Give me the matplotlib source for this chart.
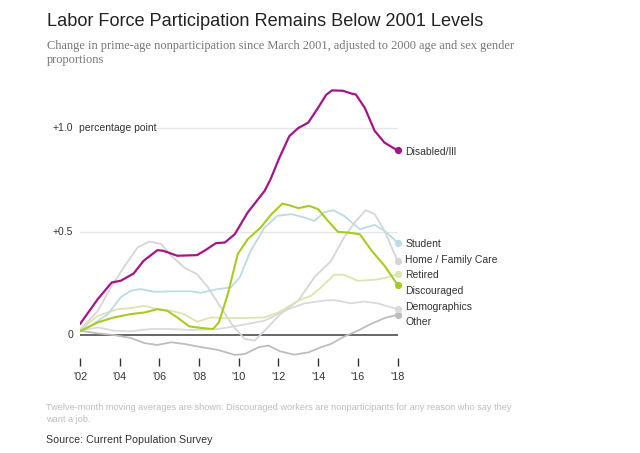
import numpy as np
import matplotlib
matplotlib.use('Agg')
import matplotlib.pyplot as plt

# values (change in nonparticipation, percentage points)
disabled_x = [2002.0, 2002.9, 2003.6, 2004.05, 2004.7, 2005.2, 2005.9, 2006.2, 2006.9, 2007.9,
              2008.4, 2008.85, 2009.3, 2009.8, 2010.45, 2011.3, 2011.6, 2012.05, 2012.55, 2013.0,
              2013.5, 2014.0, 2014.4, 2014.7, 2015.25, 2015.7, 2015.9, 2016.35, 2016.85, 2017.35, 2018.0]
disabled_y = [0.053, 0.174, 0.254, 0.262, 0.297, 0.358, 0.41, 0.407, 0.383, 0.386,
              0.415, 0.444, 0.447, 0.487, 0.592, 0.696, 0.752, 0.857, 0.961, 1.0,
              1.026, 1.098, 1.16, 1.182, 1.18, 1.166, 1.162, 1.098, 0.986, 0.929, 0.892]

student_x = [2002.0, 2002.55, 2003.4, 2004.05, 2004.55, 2005.05, 2005.75, 2006.6, 2007.6, 2008.1,
             2008.95, 2009.6, 2010.05, 2010.6, 2011.3, 2011.95, 2012.65, 2013.3, 2013.8, 2014.3,
             2014.75, 2015.3, 2016.1, 2016.85, 2017.35, 2018.0]
student_y = [0.024, 0.045, 0.101, 0.182, 0.214, 0.222, 0.209, 0.211, 0.211, 0.204,
             0.222, 0.23, 0.278, 0.407, 0.519, 0.576, 0.584, 0.568, 0.551, 0.592,
             0.603, 0.576, 0.511, 0.532, 0.503, 0.447]

home_x = [2002.0, 2002.9, 2003.55, 2004.2, 2004.9, 2005.5, 2006.1, 2006.6, 2007.25, 2007.9,
          2008.45, 2009.1, 2009.7, 2010.3, 2010.8, 2011.3, 2012.1, 2013.0, 2013.8, 2014.65,
          2015.3, 2015.9, 2016.4, 2016.85, 2017.35, 2018.0]
home_y = [0.024, 0.117, 0.23, 0.326, 0.423, 0.452, 0.439, 0.383, 0.326, 0.294,
          0.23, 0.133, 0.045, -0.019, -0.027, 0.021, 0.101, 0.166, 0.278, 0.358,
          0.471, 0.551, 0.603, 0.584, 0.503, 0.358]

retired_x = [2002.0, 2002.9, 2003.9, 2004.55, 2005.25, 2005.9, 2006.6, 2007.25, 2007.9, 2008.6,
             2009.3, 2010.3, 2011.3, 2012.0, 2013.0, 2013.65, 2014.15, 2014.8, 2015.3, 2016.0,
             2016.85, 2017.35, 2018.0]
retired_y = [0.024, 0.093, 0.125, 0.13, 0.141, 0.125, 0.117, 0.101, 0.064, 0.085,
             0.082, 0.082, 0.085, 0.109, 0.166, 0.19, 0.23, 0.291, 0.291, 0.262,
             0.267, 0.275, 0.294]

discouraged_x = [2002.0, 2002.9, 2003.7, 2004.55, 2005.25, 2005.9, 2006.4, 2006.9, 2007.5, 2008.1,
                 2008.7, 2009.0, 2009.45, 2009.95, 2010.45, 2011.1, 2011.65, 2012.2, 2012.65, 2013.0,
                 2013.55, 2014.0, 2014.5, 2015.0, 2015.5, 2016.1, 2016.7, 2017.35, 2018.0]
discouraged_y = [0.018, 0.061, 0.085, 0.101, 0.109, 0.125, 0.117, 0.085, 0.042, 0.034,
                 0.029, 0.061, 0.198, 0.391, 0.463, 0.519, 0.584, 0.635, 0.624, 0.613,
                 0.624, 0.608, 0.551, 0.498, 0.495, 0.487, 0.407, 0.334, 0.243]

demog_x = [2002.0, 2002.9, 2003.7, 2004.55, 2005.55, 2006.6, 2007.6, 2008.95, 2009.95, 2011.3,
           2012.3, 2013.3, 2014.3, 2014.8, 2015.65, 2016.35, 2017.0, 2018.0]
demog_y = [0.021, 0.037, 0.021, 0.018, 0.029, 0.029, 0.024, 0.029, 0.045, 0.069,
           0.117, 0.153, 0.166, 0.169, 0.153, 0.162, 0.153, 0.125]

other_x = [2002.0, 2002.9, 2003.7, 2004.55, 2005.25, 2005.9, 2006.6, 2007.25, 2007.9, 2008.95,
           2009.8, 2010.3, 2011.0, 2011.5, 2012.1, 2012.8, 2013.5, 2014.15, 2014.65, 2015.3,
           2016.0, 2016.65, 2017.35, 2018.0]
other_y = [0.021, 0.008, 0.0, -0.014, -0.039, -0.048, -0.035, -0.043, -0.055, -0.072,
           -0.096, -0.092, -0.059, -0.051, -0.079, -0.095, -0.084, -0.059, -0.043, -0.008,
           0.021, 0.053, 0.082, 0.098]

# label text and vertical label position (in data units)
series = [
    ('Other', other_x, other_y, '#bdbdbd', 1.3, 0.063),
    ('Demographics', demog_x, demog_y, '#dadada', 1.3, 0.135),
    ('Home / Family Care', home_x, home_y, '#d6d6d6', 1.3, 0.362),
    ('Retired', retired_x, retired_y, '#dce5b0', 1.3, 0.29),
    ('Student', student_x, student_y, '#bcdbe6', 1.3, 0.44),
    ('Discouraged', discouraged_x, discouraged_y, '#a8cb22', 1.5, 0.212),
    ('Disabled/Ill', disabled_x, disabled_y, '#a3168a', 1.6, 0.885),
]

year_ticks = [2002, 2004, 2006, 2008, 2010, 2012, 2014, 2016, 2018]
year_labels = ["'02", "'04", "'06", "'08", "'10", "'12", "'14", "'16", "'18"]

plt.rcParams['font.family'] = ['Liberation Sans', 'DejaVu Sans']

fig = plt.figure(figsize=(6.4, 4.53), dpi=100)
W, H = 640.0, 453.0
ax = fig.add_axes([80 / W, 1 - 358 / H, (397.5 - 80) / W, (358 - 82.5) / H])
ax.set_xlim(2002, 2018)
ax.set_ylim(-0.111, 1.22)
for s in ax.spines.values():
    s.set_visible(False)
ax.set_yticks([])
ax.set_xticks(year_ticks)
ax.set_xticklabels(year_labels, fontsize=7.8, color='#333333')
ax.tick_params(axis='x', length=6, width=1, color='#333333', pad=4)

# grid and baseline
ax.plot([2005.85, 2018], [1.0, 1.0], color='#e6e6e6', lw=1, zorder=0)
ax.plot([2002, 2018], [0.5, 0.5], color='#e6e6e6', lw=1, zorder=0)
ax.plot([2002, 2018], [0, 0], color='#666666', lw=1.4, zorder=1)

ax.text(2001.65, 1.0, '+1.0', ha='right', va='center', fontsize=7.5, color='#333333')
ax.text(2001.95, 1.0, 'percentage point', ha='left', va='center', fontsize=7.5, color='#333333')
ax.text(2001.65, 0.5, '+0.5', ha='right', va='center', fontsize=7.5, color='#333333')
ax.text(2001.65, 0.0, '0', ha='right', va='center', fontsize=7.5, color='#333333')

for i, (name, xs, ys, col, lw, ly) in enumerate(series):
    ax.plot(xs, ys, color=col, lw=lw, zorder=2 + i, solid_capstyle='round',
            solid_joinstyle='round')
    ax.plot(xs[-1], ys[-1], 'o', color=col, ms=4.2, zorder=2 + i, clip_on=False)
    ax.text(2018.4, ly, name, ha='left', va='center', fontsize=7.5, color='#333333',
            clip_on=False)

fig.text(47 / W, 1 - 22 / H, 'Labor Force Participation Remains Below 2001 Levels',
         fontsize=13.1, color='#222222', va='center', ha='left')
fig.text(47 / W, 1 - 46 / H,
         'Change in prime-age nonparticipation since March 2001, adjusted to 2000 age and sex gender',
         fontsize=8.9, color='#777777', va='center', ha='left', family=['Liberation Serif'])
fig.text(47 / W, 1 - 60 / H, 'proportions',
         fontsize=8.9, color='#777777', va='center', ha='left', family=['Liberation Serif'])
fig.text(46 / W, 1 - 407 / H,
         'Twelve-month moving averages are shown. Discouraged workers are nonparticipants for any reason who say they',
         fontsize=6.55, color='#bdbdbd', va='center', ha='left')
fig.text(46 / W, 1 - 419 / H, 'want a job.',
         fontsize=6.55, color='#bdbdbd', va='center', ha='left')
fig.text(46 / W, 1 - 440 / H, 'Source: Current Population Survey',
         fontsize=7.7, color='#333333', va='center', ha='left')

fig.savefig('out.png', dpi=100)
